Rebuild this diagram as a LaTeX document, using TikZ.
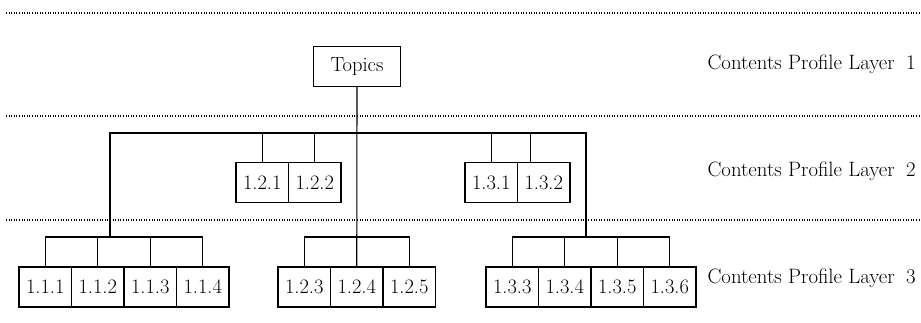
\documentclass[tikz,border=0pt]{standalone}
\usepackage{fontspec}
\usetikzlibrary{positioning}
\begin{document}
\begin{tikzpicture}[x=1pt, y=-1pt, line width=1.1pt, box_style/.style={draw, minimum width=52.5pt, minimum height=40pt, inner sep=0pt, outer sep=0pt, font=\fontsize{20.5}{24}\selectfont}, top_style/.style={box_style, minimum width=87pt}, layer_style/.style={line width=1.1pt, dash pattern=on 1pt off 1.6pt}, label_style/.style={anchor=west, inner sep=0pt, font=\fontsize{20.8}{24}\selectfont}, edge_style/.style={draw=black, line width=1.1pt}]
  \useasboundingbox (0,0) rectangle (921,322);
  \foreach \y in {13,116,220}
    \draw[layer_style] (6,\y) -- (921,\y);
  \node[label_style] (l1) at (707,64) {Contents Profile Layer\hspace{0.55em}1};
  \node[label_style] (l2) at (707,171) {Contents Profile Layer\hspace{0.55em}2};
  \node[label_style] (l3) at (707,278) {Contents Profile Layer\hspace{0.55em}3};
  % layer 1
  \node[top_style] (top) at (357,66.5) {Topics};
  % layer 2
  \node[box_style] (121) at (262.25,182.5) {1.2.1};
  \node[box_style, right=0pt of 121] (122) {1.2.2};
  \node[box_style] (131) at (491.25,182.5) {1.3.1};
  \node[box_style, right=0pt of 131] (132) {1.3.2};
  % layer 3
  \node[box_style] (111) at (45.25,287) {1.1.1};
  \node[box_style, right=0pt of 111] (112) {1.1.2};
  \node[box_style, right=0pt of 112] (113) {1.1.3};
  \node[box_style, right=0pt of 113] (114) {1.1.4};
  \node[box_style] (123) at (304.25,287) {1.2.3};
  \node[box_style, right=0pt of 123] (124) {1.2.4};
  \node[box_style, right=0pt of 124] (125) {1.2.5};
  \node[box_style] (133) at (512.25,287) {1.3.3};
  \node[box_style, right=0pt of 133] (134) {1.3.4};
  \node[box_style, right=0pt of 134] (135) {1.3.5};
  \node[box_style, right=0pt of 135] (136) {1.3.6};
  % junctions
  \coordinate (bus) at (0,133);
  \coordinate (sub) at (0,237);
  \coordinate (g11) at (110,237);
  \coordinate (g13) at (586,237);
  \coordinate (c132) at ([xshift=-13pt]132.north);
  \begin{scope}[-]
    \draw[edge_style] (top.south) -- (124.north);
    \draw[edge_style] (g11) -- (g11 |- bus) -- (g13 |- bus) -- (g13);
    \foreach \n in {121,122,131,c132}
      \draw[edge_style] (\n.north) -- (\n |- bus);
    \draw[edge_style] (111.north) -- (111 |- sub) -- (114 |- sub) -- (114.north);
    \draw[edge_style] (123.north) -- (123 |- sub) -- (125 |- sub) -- (125.north);
    \draw[edge_style] (133.north) -- (133 |- sub) -- (136 |- sub) -- (136.north);
    \foreach \n in {112,113,134,135}
      \draw[edge_style] (\n.north) -- (\n |- sub);
  \end{scope}
\end{tikzpicture}
\end{document}
